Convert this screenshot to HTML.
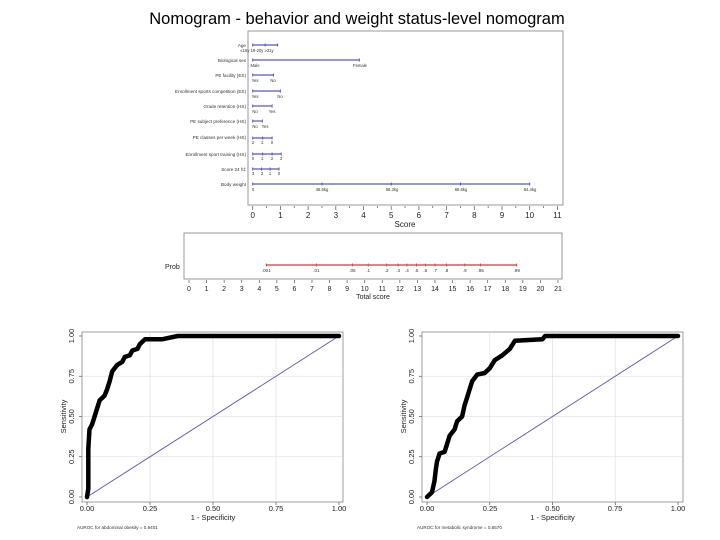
<!DOCTYPE html>
<html><head><meta charset="utf-8"><style>
html,body{margin:0;padding:0;background:#fff;}
svg{display:block;font-family:"Liberation Sans",Arial,sans-serif;}
</style></head><body>
<svg id="s" width="720" height="540" viewBox="0 0 720 540" xmlns="http://www.w3.org/2000/svg">
<text x="357" y="24" font-size="16.5" text-anchor="middle" fill="#000">Nomogram - behavior and weight status-level nomogram</text>
<rect x="248" y="31" width="315" height="174" fill="none" stroke="#999" stroke-width="1"/>
<g font-size="4.6" fill="#333" text-anchor="end">
<text x="246" y="47">Age</text>
<text x="246" y="62">Biological sex</text>
<text x="246" y="77">PE facility (ES)</text>
<text x="246" y="93">Enrollment sports competition (ES)</text>
<text x="246" y="108">Grade retention (HS)</text>
<text x="246" y="123">PE subject preference (HS)</text>
<text x="246" y="139">PE classes per week (HS)</text>
<text x="246" y="156">Enrollment sport training (HS)</text>
<text x="246" y="171">Score 24 h‡</text>
<text x="246" y="186">Body weight</text>
</g>
<g font-size="4.2" fill="#333" text-anchor="middle">
<text x="257" y="52">≤18y 19-20y ≥21y</text>
<text x="255" y="67">Male</text><text x="360" y="67">Female</text>
<text x="255" y="82">Yes</text><text x="273" y="82">No</text>
<text x="255" y="98">Yes</text><text x="280" y="98">No</text>
<text x="255" y="113">No</text><text x="272" y="113">Yes</text>
<text x="255" y="128">No</text><text x="265" y="128">Yes</text>
<text x="253" y="144">2</text><text x="262" y="144">1</text><text x="272" y="144">0</text>
<text x="253" y="160">0</text><text x="262" y="160">1</text><text x="272" y="160">2</text><text x="281" y="160">3</text>
<text x="253" y="175">3</text><text x="262" y="175">2</text><text x="270" y="175">1</text><text x="279" y="175">0</text>
<text x="253" y="191">0</text><text x="322" y="191">48.5kg</text><text x="392" y="191">58.3kg</text><text x="461" y="191">68.8kg</text><text x="530" y="191">84.4kg</text>
</g>
<g font-size="8" fill="#222" text-anchor="middle">
<text x="252.7" y="218">0</text><text x="280.4" y="218">1</text><text x="308.1" y="218">2</text><text x="335.8" y="218">3</text><text x="363.5" y="218">4</text><text x="391.2" y="218">5</text><text x="418.9" y="218">6</text><text x="446.6" y="218">7</text><text x="474.3" y="218">8</text><text x="502" y="218">9</text><text x="529.7" y="218">10</text><text x="557.4" y="218">11</text>
<text x="405" y="227">Score</text>
</g>
<rect x="184" y="233" width="378" height="46" fill="none" stroke="#999" stroke-width="1"/>
<text x="165" y="269" font-size="7" fill="#222">Prob</text>
<g font-size="4.6" fill="#333" text-anchor="middle">
<text x="266.3" y="272">.001</text><text x="316.4" y="272">.01</text><text x="352.4" y="272">.05</text><text x="368.2" y="272">.1</text><text x="386.6" y="272">.2</text><text x="398.1" y="272">.3</text><text x="406.9" y="272">.4</text><text x="416.5" y="272">.5</text><text x="425.3" y="272">.6</text><text x="435" y="272">.7</text><text x="446.4" y="272">.8</text><text x="464.8" y="272">.9</text><text x="480.6" y="272">.95</text><text x="516.7" y="272">.99</text>
</g>
<g id="tot" font-size="7" fill="#222" text-anchor="middle"></g>
<text x="373" y="299" font-size="7" fill="#222" text-anchor="middle">Total score</text>
<g id="dyn"></g>
<g font-size="7.5" fill="#222" text-anchor="middle">
<text x="87" y="511">0.00</text><text x="150" y="511">0.25</text><text x="213" y="511">0.50</text><text x="276" y="511">0.75</text><text x="339" y="511">1.00</text>
<text x="213" y="520">1 - Specificity</text>
<text x="427" y="511">0.00</text><text x="490" y="511">0.25</text><text x="552.5" y="511">0.50</text><text x="615" y="511">0.75</text><text x="678" y="511">1.00</text>
<text x="552.5" y="520">1 - Specificity</text>
<g transform="translate(74,0)"><text transform="translate(0,497) rotate(-90)">0.00</text><text transform="translate(0,456.75) rotate(-90)">0.25</text><text transform="translate(0,416.5) rotate(-90)">0.50</text><text transform="translate(0,376.25) rotate(-90)">0.75</text><text transform="translate(0,336) rotate(-90)">1.00</text><text transform="translate(-8,416.5) rotate(-90)">Sensitivity</text></g>
<g transform="translate(414,0)"><text transform="translate(0,497) rotate(-90)">0.00</text><text transform="translate(0,456.75) rotate(-90)">0.25</text><text transform="translate(0,416.5) rotate(-90)">0.50</text><text transform="translate(0,376.25) rotate(-90)">0.75</text><text transform="translate(0,336) rotate(-90)">1.00</text><text transform="translate(-8,416.5) rotate(-90)">Sensitivity</text></g>
</g>
<text x="77" y="529" font-size="4.6" fill="#333">AUROC for abdominal obesity = 0.9401</text>
<text x="417" y="529" font-size="4.6" fill="#333">AUROC for metabolic syndrome = 0.8570</text>
</svg>
<script>
var d=document.getElementById('dyn'),h='';
function L(x1,y1,x2,y2,c,w){h+='<line x1="'+x1+'" y1="'+y1+'" x2="'+x2+'" y2="'+y2+'" stroke="'+c+'" stroke-width="'+w+'"/>';}
var sx=function(v){return 252.7+27.7*v;};
var rows=[[45,[0,.45,.9]],[60,[0,3.85]],[75,[0,.75]],[91,[0,1.0]],[106,[0,.7]],[121,[0,.35]],[138,[0,.35,.7]],[154,[0,.35,.7,1.03]],[169,[0,.32,.63,.95]],[184,[0,2.5,5,7.5,10]]];
rows.forEach(function(r){var y=r[0],t=r[1];L(sx(0),y,sx(t[t.length-1]),y,'#5a5ab4',1.2);t.forEach(function(v){L(sx(v),y-1.5,sx(v),y+1.5,'#5a5ab4',1);});});
for(var i=0;i<=22;i++){L(sx(i/2),206,sx(i/2),i%2?208:210,'#555',0.7);}
var tx=function(v){return 189+17.57*v;};
L(tx(4.4),265,tx(18.65),265,'#c83c3c',1.2);
[4.4,7.25,9.3,10.2,11.25,11.9,12.4,12.95,13.45,14,14.65,15.7,16.6,18.65].forEach(function(v){L(tx(v),263.5,tx(v),266.5,'#c83c3c',0.8);});
var tl='';for(var i=0;i<=21;i++){L(tx(i),280,tx(i),283,'#555',0.7);tl+='<text x="'+tx(i)+'" y="291">'+i+'</text>';}
document.getElementById('tot').innerHTML=tl;
function roc(x0,x1,bx,pts){var X=function(v){return x0+(x1-x0)*v;},Y=function(v){return 497-161*v;};
h+='<rect x="'+bx+'" y="332" width="261" height="170" fill="none" stroke="#888" stroke-width="0.8"/>';
for(var k=1;k<4;k++){L(X(k/4),333,X(k/4),501,'#e4e4e4',0.8);L(bx+1,Y(k/4),bx+260,Y(k/4),'#e4e4e4',0.8);}
for(var k=0;k<=4;k++){L(X(k/4),502,X(k/4),505,'#555',0.7);L(bx-3,Y(k/4),bx,Y(k/4),'#555',0.7);}
L(X(0),Y(0),X(1),Y(1),'#5a5ab4',0.9);
h+='<polyline fill="none" stroke="#000" stroke-width="4.5" stroke-linejoin="round" stroke-linecap="round" points="'+pts.map(function(p){return X(p[0]).toFixed(1)+','+Y(p[1]).toFixed(1);}).join(' ')+'"/>';}
roc(87,339,82,[[0,0],[0.005,0.05],[0.005,0.3],[0.01,0.42],[0.02,0.45],[0.03,0.5],[0.04,0.55],[0.05,0.6],[0.07,0.63],[0.08,0.67],[0.09,0.72],[0.1,0.78],[0.12,0.82],[0.14,0.84],[0.15,0.87],[0.17,0.88],[0.18,0.91],[0.2,0.92],[0.21,0.95],[0.23,0.98],[0.3,0.98],[0.36,1],[1,1]]);
roc(427,678,422,[[0,0],[0.02,0.03],[0.03,0.1],[0.035,0.17],[0.04,0.22],[0.05,0.27],[0.07,0.28],[0.08,0.33],[0.09,0.38],[0.11,0.42],[0.12,0.47],[0.14,0.5],[0.15,0.57],[0.16,0.62],[0.17,0.67],[0.18,0.72],[0.2,0.76],[0.23,0.77],[0.25,0.8],[0.27,0.85],[0.3,0.88],[0.33,0.92],[0.35,0.97],[0.46,0.98],[0.47,1],[1,1]]);
d.innerHTML=h;
</script>
</body></html>
